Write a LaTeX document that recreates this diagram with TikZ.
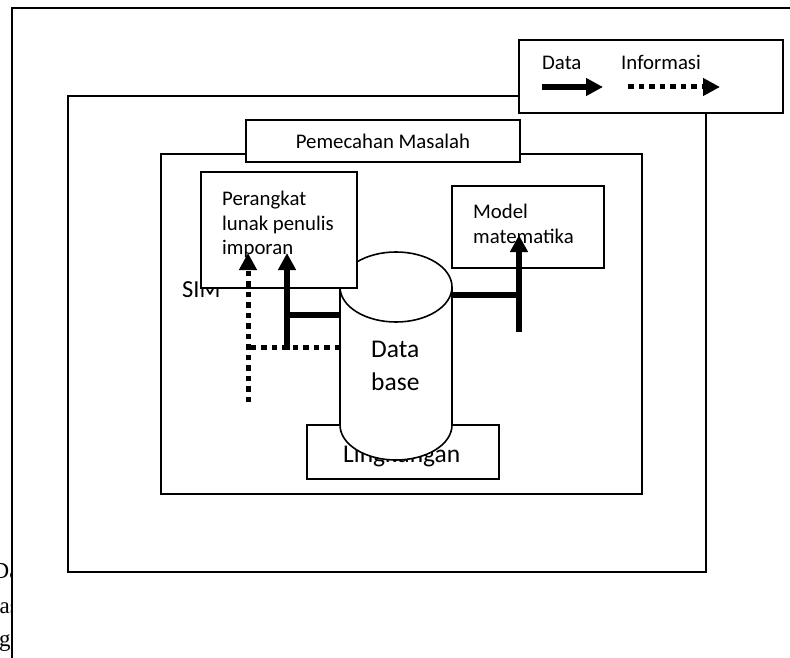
\documentclass[tikz,border=0pt]{standalone}
\usepackage{fontspec}
\setmainfont{Carlito}
\newfontfamily\cutserif{Liberation Serif}
\usetikzlibrary{arrows.meta}
\begin{document}
\begin{tikzpicture}[x=1pt,y=-1pt,
  box/.style={draw,line width=1.8pt,fill=white,inner sep=0pt},
  txt/.style={font=\fontsize{20.8}{25}\selectfont,inner sep=0pt,anchor=base west},
  bigtxt/.style={font=\fontsize{25.5}{30}\selectfont,inner sep=0pt,anchor=base west},
  frag/.style={font=\cutserif\fontsize{23}{27}\selectfont,inner sep=0pt,anchor=base west},
  datalink/.style={line width=5.5pt},
  infolink/.style={line width=5pt,dash pattern=on 5.5pt off 5pt},
  tip/.style={-{Triangle[length=17pt,width=17pt]}},
  cyl/.style={line width=1.6pt,fill=white}]
\useasboundingbox (0,0) rectangle (790,658);

% cut-off text at the bottom left
\begin{scope}
  \clip (0,540) rectangle (12,658);
  \node[frag] (f1) at (-7.5,578) {Da};
  \node[frag] (f2) at (-0.5,613) {as};
  \node[frag] (f3) at (-1,646) {g};
\end{scope}

% outer page frame
\draw[line width=1.8pt] (12,658) -- (12,8) -- (790,8);

% SIM box
\node[box,fill=none,minimum width=638pt,minimum height=476pt] (sim) at (387,334) {};
% legend
\node[box,minimum width=264pt,minimum height=73pt] (legend) at (651,76.5) {};
\node[txt] (ldata) at (542,70) {Data};
\node[txt] (linfo) at (621,70) {Informasi};
\coordinate (ds) at (542,87);
\coordinate (de) at (603,87);
\coordinate (is) at (628,87);
\coordinate (ie) at (720,87);
\draw[datalink,tip] (ds) -- (de);
\draw[infolink,tip] (is) -- (ie);

% inner box and problem solving
\node[box,fill=none,minimum width=481pt,minimum height=340pt] (inner) at (401.5,324) {};
\node[box,minimum width=274pt,minimum height=42pt,font=\fontsize{20.8}{25}\selectfont] (pm) at (383,141) {Pemecahan Masalah};

% environment
\node[box,minimum width=192pt,minimum height=54pt] (env) at (403,452) {};
\node[bigtxt] (envt) at (343,462) {Lingkungan};

% SIM label
\node[bigtxt,font=\fontsize{24.5}{29}\selectfont] (simt) at (182,297) {SIM};

% database cylinder
\draw[cyl] (340,287) -- (340,425) arc[start angle=180,end angle=0,x radius=56,y radius=35] -- (452,287);
\draw[cyl] (396,287) ellipse[x radius=56,y radius=35];
\node[bigtxt] (db1) at (371,357) {Data};
\node[bigtxt] (db2) at (371,390) {base};
\coordinate (dbw1) at (340,315);
\coordinate (dbw2) at (340,347);
\coordinate (dbe) at (452,295);

% report writer
\node[box,minimum width=156pt,minimum height=116pt] (prl) at (279,230) {};
\node[txt] (prl1) at (222,205) {Perangkat};
\node[txt] (prl2) at (222,230) {lunak penulis};
\node[txt] (prl3) at (222,254) {imporan};

% math model
\node[box,minimum width=152pt,minimum height=82pt] (mm) at (528,227) {};
\node[txt] (mm1) at (473,218) {Model};
\node[txt] (mm2) at (473,243) {matematika};

% connectors
\coordinate (sa) at (287,350);
\coordinate (sj) at (287,315);
\coordinate (st) at (287,253);
\draw[datalink,tip] (sa) -- (st);
\draw[datalink] (sj) -- (dbw1);

\coordinate (oa) at (248,402);
\coordinate (oj) at (248,347);
\coordinate (ot) at (248,253);
\draw[infolink,tip] (oa) -- (ot);
\draw[infolink] (dbw2) -- (oj);

\coordinate (ra) at (519,332);
\coordinate (rj) at (519,295);
\coordinate (rt) at (519,235);
\draw[datalink] (dbe) -- (rj);
\draw[datalink,tip] (ra) -- (rt);
\end{tikzpicture}
\end{document}
